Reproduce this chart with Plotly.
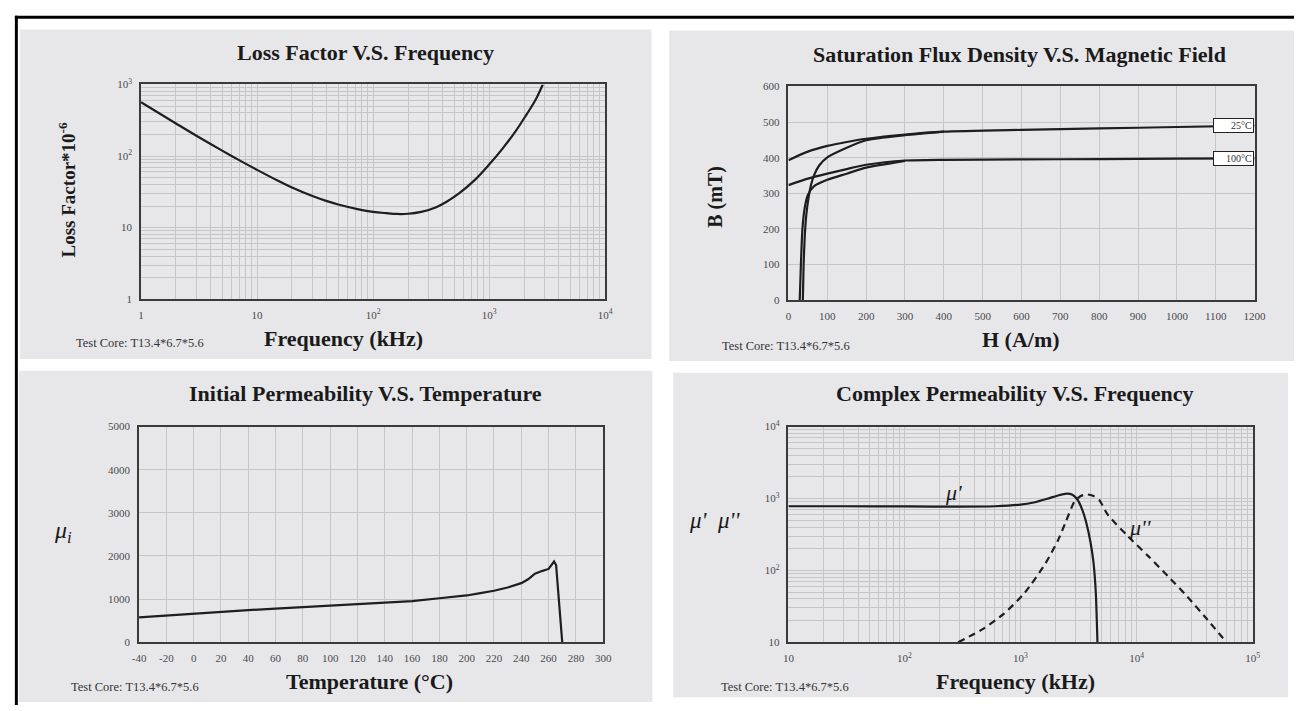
import numpy as np
import plotly.graph_objects as go

# ---------------- data ----------------
# Loss factor vs frequency (kHz), tan(delta)/mu * 1e-6
lf_freq = [1, 2, 3, 5, 7, 10, 15, 20, 30, 40, 50, 75, 100, 130, 160, 200, 260,
           350, 430, 550, 750, 1000, 1300, 1700, 2100, 2500, 2900]
lf_val = [565, 285, 192, 119, 87.6, 64, 45.5, 36.3, 27.6, 23.4, 21, 18, 16.6,
          15.9, 15.5, 15.6, 16.6, 19.3, 23, 30, 46, 76, 126, 225, 380, 600, 1000]

# B-H curves (A/m, mT): descending and initial branches at 25 C and 100 C
h_desc = [0, 50, 100, 150, 200, 300, 400, 600, 800, 1000, 1200]
b25_desc = [393, 417, 433, 444, 453, 465, 473, 478, 482, 486, 490]
b100_desc = [323, 341, 355, 368, 380, 392, 394, 395, 396, 397, 398]
h25_init = [37, 39, 42, 46, 52, 58, 66, 79, 100, 150, 200, 300, 400]
b25_init = [0, 100, 180, 240, 290, 323, 351, 378, 401, 428, 449, 463, 473]
h100_init = [29, 32, 36, 42, 50, 66, 100, 150, 200, 300]
b100_init = [0, 100, 200, 260, 295, 320, 338, 355, 372, 391]
temp_labels = ["25°C", "100°C"]

# Initial permeability vs temperature
temp_c = [-40, -20, 0, 20, 40, 60, 80, 100, 120, 140, 160, 180, 200, 210, 220,
          230, 240, 245, 250, 255, 260, 264, 265.5, 270]
mu_i = [575, 620, 665, 705, 745, 780, 815, 845, 880, 915, 955, 1020, 1085,
        1140, 1195, 1270, 1370, 1460, 1590, 1650, 1700, 1870, 1790, 0]

# Complex permeability vs frequency (kHz)
cp_freq1 = [10, 30, 100, 300, 600, 1000, 1300, 1700, 2100, 2500, 2800, 3100,
            3400, 3700, 4000, 4250, 4450, 4600]
mu_real = [780, 780, 775, 770, 780, 820, 880, 990, 1100, 1170, 1130, 960,
           700, 450, 250, 130, 50, 10]
cp_freq2 = [290, 480, 720, 1090, 1640, 2100, 2470, 2910, 3300, 3730, 4200,
            4770, 5620, 8480, 12600, 18500, 27400, 40400, 59400]
mu_imag = [10, 15.5, 25, 49, 125, 260, 485, 900, 1080, 1140, 1090, 955, 600,
           295, 158, 84, 43, 21, 10]

titles = ["Loss Factor V.S. Frequency",
          "Saturation Flux Density V.S. Magnetic Field",
          "Initial Permeability V.S. Temperature",
          "Complex Permeability V.S. Frequency"]
x_titles = ["Frequency (kHz)", "H (A/m)", "Temperature (°C)", "Frequency (kHz)"]
core_note = "Test Core: T13.4*6.7*5.6"

# ---------------- page geometry ----------------
W, H = 1306, 711


def px(x):
    return x / W


def py(y):
    return 1 - y / H


SERIF = "Liberation Serif"
LINE = "#1e1e1e"
GRID = "#c6c6c6"
PANEL = "#e7e7ea"


def axis_style(**kw):
    base = dict(showline=True, linecolor="#3a3a3a", linewidth=1.5, mirror=True,
                showgrid=True, gridcolor=GRID, gridwidth=1, zeroline=False,
                ticks="outside", ticklen=5, tickcolor="rgba(0,0,0,0)",
                tickfont=dict(family=SERIF, size=11, color="#4a4a4a"),
                fixedrange=True)
    base.update(kw)
    return base


def log_minor(lo, hi):
    return [m * 10 ** k for k in range(lo, hi) for m in range(2, 10)]


def pow_text(k):
    return {0: "1", 1: "10"}.get(k, "10<sup>%d</sup>" % k)


fig = go.Figure()

# panel 1: loss factor
fig.add_trace(go.Scatter(x=lf_freq, y=lf_val, mode="lines",
                         line=dict(color=LINE, width=2.2, shape="spline", smoothing=1.0),
                         xaxis="x", yaxis="y"))

# panel 2: B-H curves
for hx, by in [(h_desc, b25_desc), (h_desc, b100_desc),
               (h25_init, b25_init), (h100_init, b100_init)]:
    fig.add_trace(go.Scatter(x=hx, y=by, mode="lines",
                             line=dict(color=LINE, width=2.2, shape="spline", smoothing=0.6),
                             xaxis="x2", yaxis="y2"))

# panel 3: initial permeability
fig.add_trace(go.Scatter(x=temp_c, y=mu_i, mode="lines",
                         line=dict(color=LINE, width=2.2),
                         xaxis="x3", yaxis="y3"))

# panel 4: complex permeability
fig.add_trace(go.Scatter(x=cp_freq1, y=mu_real, mode="lines",
                         line=dict(color=LINE, width=2.2, shape="spline", smoothing=0.6),
                         xaxis="x4", yaxis="y4"))
fig.add_trace(go.Scatter(x=cp_freq2, y=mu_imag, mode="lines",
                         line=dict(color=LINE, width=2.2, dash="7px,5px",
                                   shape="spline", smoothing=0.6),
                         xaxis="x4", yaxis="y4"))

dec1 = list(range(0, 5))
dec1y = list(range(0, 4))
dec4x = list(range(1, 6))
dec4y = list(range(1, 5))
t_ticks = list(range(-40, 301, 20))

fig.update_layout(
    width=W, height=H, margin=dict(l=0, r=0, t=0, b=0),
    paper_bgcolor="white", plot_bgcolor="white", showlegend=False,
    xaxis=axis_style(domain=[px(136), px(607)], type="log", range=[0, 4],
                     tickvals=[10 ** k for k in dec1], ticktext=[pow_text(k) for k in dec1],
                     minor=dict(tickvals=log_minor(0, 4), showgrid=True, gridcolor=GRID)),
    yaxis=axis_style(domain=[py(297), py(78)], type="log", range=[0, 3],
                     tickvals=[10 ** k for k in dec1y], ticktext=[pow_text(k) for k in dec1y],
                     minor=dict(tickvals=log_minor(0, 3), showgrid=True, gridcolor=GRID)),
    xaxis2=axis_style(domain=[px(793), px(1266)], range=[0, 1200], dtick=100,
                      anchor="y2"),
    yaxis2=axis_style(domain=[py(298), py(80)], range=[0, 600], dtick=100,
                      anchor="x2"),
    xaxis3=axis_style(domain=[px(134), px(605)], range=[-40, 300],
                      tickvals=t_ticks, ticktext=[str(v) for v in t_ticks], anchor="y3"),
    yaxis3=axis_style(domain=[py(647), py(427)], range=[0, 5000], dtick=1000,
                      anchor="x3"),
    xaxis4=axis_style(domain=[px(793), px(1264)], type="log", range=[1, 5],
                      tickvals=[10 ** k for k in dec4x], ticktext=[pow_text(k) for k in dec4x],
                      minor=dict(tickvals=log_minor(1, 5), showgrid=True, gridcolor=GRID),
                      anchor="y4"),
    yaxis4=axis_style(domain=[py(647), py(427)], type="log", range=[1, 4],
                      tickvals=[10 ** k for k in dec4y], ticktext=[pow_text(k) for k in dec4y],
                      minor=dict(tickvals=log_minor(1, 4), showgrid=True, gridcolor=GRID),
                      anchor="x4"),
)

# gray card behind every chart, plus the black frame on top/left
shapes = []
for x0, y0, x1, y1 in [(13, 22, 654, 358), (672, 23, 1306, 360),
                       (12, 370, 655, 708), (676, 372, 1300, 703)]:
    shapes.append(dict(type="rect", xref="paper", yref="paper", layer="below",
                       x0=px(x0), x1=px(x1), y0=py(y1), y1=py(y0),
                       fillcolor=PANEL, line=dict(width=0)))
shapes.append(dict(type="rect", xref="paper", yref="paper", layer="above",
                   x0=px(8), x1=px(1306), y0=py(11), y1=py(8),
                   fillcolor="black", line=dict(width=0)))
shapes.append(dict(type="rect", xref="paper", yref="paper", layer="above",
                   x0=px(8), x1=px(11), y0=py(711), y1=py(8),
                   fillcolor="black", line=dict(width=0)))
fig.update_layout(shapes=shapes)

ann = []


def text(x, y, s, size, angle=0, color="#1a1a1a", xanchor="center"):
    ann.append(dict(x=px(x), y=py(y), xref="paper", yref="paper", text=s,
                    showarrow=False, textangle=angle, xanchor=xanchor, yanchor="middle",
                    font=dict(family=SERIF, size=size, color=color)))


# chart titles
for (cx, cy), t in zip([(364, 45), (1027, 47), (364, 393), (1022, 393)], titles):
    text(cx, cy, "<b>%s</b>" % t, 22)
# x-axis titles
for (cx, cy), t in zip([(341, 337), (1029, 338), (368, 687), (1023, 687)], x_titles):
    text(cx, cy, "<b>%s</b>" % t, 22)
# y-axis titles
text(61, 186, "<b>Loss Factor*10<sup>-6</sup></b>", 19, angle=-90)
text(719, 193, "<b>B (mT)</b>", 20, angle=-90)
text(57, 535, "<i>μ<sub>i</sub></i>", 24)
text(718, 523, "<i>μ'  μ''</i>", 23)
# test core notes
for cx, cy in [(135, 342), (791, 345), (130, 693), (789, 693)]:
    text(cx, cy, core_note, 12.5, color="#333333")

# temperature tags on the B-H curves
tag_h = 1145
for lbl, bvals in zip(temp_labels, [b25_desc, b100_desc]):
    ann.append(dict(x=tag_h, y=float(np.interp(tag_h, h_desc, bvals)), xref="x2", yref="y2",
                    text=lbl, showarrow=False, bgcolor="white", bordercolor="#222222",
                    borderwidth=1, borderpad=1, width=37, align="right",
                    font=dict(family=SERIF, size=10, color="#333333")))

# curve labels on complex permeability chart
ann.append(dict(x=np.log10(263), y=np.log10(1230), xref="x4", yref="y4", text="<i>μ'</i>",
                showarrow=False, font=dict(family=SERIF, size=22, color="#1a1a1a")))
ann.append(dict(x=np.log10(10600), y=np.log10(394), xref="x4", yref="y4", text="<i>μ''</i>",
                showarrow=False, font=dict(family=SERIF, size=22, color="#1a1a1a")))

fig.update_layout(annotations=ann)
fig.write_html("out.html")
